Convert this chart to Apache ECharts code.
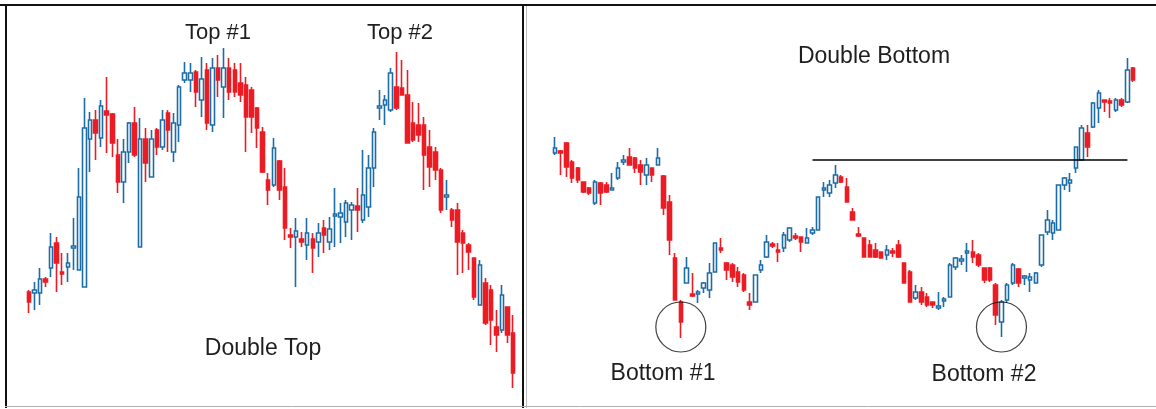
<!DOCTYPE html>
<html>
<head>
<meta charset="utf-8">
<script src="https://cdn.jsdelivr.net/npm/echarts@6/dist/echarts.min.js"></script>
<style>
html,body{margin:0;padding:0;background:#fff;}
#c{width:1156px;height:409px;}
</style>
</head>
<body>
<div id="c"></div>
<script>
// ---- Data: [open, close, low, high] ----
var doubleTopCandles = [
[108,98,87,110],[107,110,90,118],[107,121,95,132],[121,118,113,123],[132,153,123,167],
[157,137,108,163],[128,126,115,147],[133,137,118,147],[152,154,130,182],[130,203,130,232],
[113,272,113,302],[261,280,228,288],[280,267,240,290],[262,294,253,300],[289,285,247,323],
[286,257,243,287],[245,218,207,261],[218,248,197,261],[248,277,237,278],[277,245,243,293],
[153,261,153,282],[261,237,218,272],[223,261,223,270],[270,253,245,272],[253,280,250,290],
[287,270,248,290],[248,277,238,287],[275,313,258,315],[320,327,317,338],[320,327,308,337],
[328,308,293,330],[300,321,283,343],[330,277,270,337],[275,332,268,342],[332,320,303,345],
[313,332,282,352],[332,308,300,342],[330,308,303,337],[317,305,298,337],[315,283,248,323],
[310,283,267,313],[292,272,252,293],[268,228,227,273],[220,210,195,227],[215,252,213,262],
[239,210,200,240],[213,172,160,232],[165,163,152,172],[163,169,113,182],[161,158,153,168],
[155,167,140,182],[161,152,127,167],[158,167,143,177],[172,165,147,180],[158,171,150,183],
[184,186,153,212],[183,187,157,197],[178,197,163,200],[190,195,160,198],[194,190,168,212],
[180,205,177,250],[193,232,183,245],[232,268,213,272],[292,294,280,310],[295,300,275,305],
[290,327,288,332],[313,292,290,348],[312,305,305,340],[305,257,257,330],[277,260,258,298],
[275,265,258,297],[275,245,210,283],[253,233,213,270],[248,230,220,253],[230,190,187,232],
[203,205,190,220],[190,180,173,192],[190,158,125,197],[167,157,127,170],[155,148,130,157],
[142,103,100,142],[95,135,95,140],[117,77,75,122],[110,80,55,115],[73,65,48,90],
[70,105,67,115],[93,65,57,93],[67,27,12,85]
];
var doubleBottomCandles = [
[247,252,245,263],[249,247,225,250],[257,233,223,258],[238,222,217,240],
[232,220,217,233],[218,208,207,218],[212,207,205,213],[197,218,195,220],
[217,207,195,218],[215,208,207,218],[210,212,210,227],[222,232,220,238],[238,240,235,245],
[243,235,235,252],[242,232,227,243],[235,228,215,240],[225,235,215,242],[232,225,218,232],
[235,242,235,252],[224,192,185,225],[198,160,145,205],[142,100,100,147],[98,78,62,100],
[117,132,117,143],[106,104,103,127],[106,108,97,110],[112,117,107,118],[110,127,102,137],
[128,157,128,157],[152,150,147,162],[137,130,120,138],[135,123,118,137],[128,118,113,133],
[125,110,108,127],[98,95,90,107],[98,125,98,125],[130,135,127,140],[143,158,142,165],
[156,154,152,158],[150,148,138,157],[152,165,148,168],[160,172,158,173],[164,162,160,167],
[163,158,148,163],[157,162,157,172],[167,170,165,173],[170,203,170,203],[210,212,203,218],
[207,215,203,220],[217,225,212,235],[223,218,217,225],[213,198,198,222],[188,180,180,192],
[166,164,163,173],[162,143,143,162],[155,143,143,160],[150,143,142,157],[148,142,142,148],
[145,150,140,155],[149,147,143,152],[155,143,142,160],[137,117,117,137],[128,98,98,130],
[102,108,100,115],[108,98,95,113],[103,95,93,107],[98,95,92,98],[92,94,90,108],
[99,101,93,103],[103,135,103,137],[133,142,130,143],[139,141,135,145],[147,149,128,157],
[148,143,137,160],[145,135,133,147],[132,120,117,132],[132,120,118,133],[115,85,75,117],
[78,98,63,100],[100,115,97,117],[117,135,115,137],[131,117,113,132],[122,124,115,125],
[120,123,108,127],[117,127,117,128],[135,165,133,165],[168,180,165,190],[167,177,160,180],
[170,215,170,215],[215,222,210,223],[217,220,208,227],[232,253,227,253],[240,272,240,275],
[267,253,243,275],[273,297,272,298],[292,307,277,310],[300,298,288,300],[299,297,282,302],
[290,300,288,302],[300,295,293,302],[298,330,297,342],[332,320,318,333]
];
var leftCategories = doubleTopCandles.map(function(d,i){return 'D' + (i+1);});
var rightCategories = doubleBottomCandles.map(function(d,i){return 'D' + (i+1);});
var resistanceLevel = 240;          // neckline of the double bottom
var resistanceFrom = 45, resistanceTo = 100;   // candle indices
var bottomMarks = [[22, 73], [78, 73]];        // [candle index, price]
var labels = {
  top1: 'Top #1', top2: 'Top #2', doubleTop: 'Double Top',
  doubleBottom: 'Double Bottom', bottom1: 'Bottom #1', bottom2: 'Bottom #2'
};

var BLUE = '#1c6da6', RED = '#ec1c24';
var chart = echarts.init(document.getElementById('c'), null, {renderer:'canvas'});
var candleStyle = {color:'#ffffff', color0:RED, borderColor:BLUE, borderColor0:RED, borderWidth:1.6};
var font = '"Liberation Sans", Arial, sans-serif';
function txt(t, x, y, size){
  return {type:'text', x:x, y:y, z:10, style:{text:t, fill:'#1e1e1e', font: size + 'px ' + font, align:'center', verticalAlign:'middle'}};
}
function ln(x1, y1, x2, y2, color, w){
  return {type:'line', z:20, shape:{x1:x1, y1:y1, x2:x2, y2:y2}, style:{stroke:color, lineWidth:w}};
}
chart.setOption({
  animation:false,
  backgroundColor:'#ffffff',
  grid:[
    {left:26, width:490, top:0, height:409},
    {left:552, width:584, top:0, height:409}
  ],
  xAxis:[
    {type:'category', gridIndex:0, data:leftCategories, show:false, boundaryGap:true},
    {type:'category', gridIndex:1, data:rightCategories, show:false, boundaryGap:true}
  ],
  yAxis:[
    {type:'value', gridIndex:0, min:-9, max:400, show:false, splitLine:{show:false}},
    {type:'value', gridIndex:1, min:-9, max:400, show:false, splitLine:{show:false}}
  ],
  series:[
    {type:'candlestick', xAxisIndex:0, yAxisIndex:0, data:doubleTopCandles, barWidth:4, itemStyle:candleStyle},
    {type:'candlestick', xAxisIndex:1, yAxisIndex:1, data:doubleBottomCandles, barWidth:4, itemStyle:candleStyle,
      markLine:{symbol:'none', silent:true, label:{show:false}, lineStyle:{color:'#000', width:1.5, type:'solid'},
        data:[[{coord:[resistanceFrom, resistanceLevel]},{coord:[resistanceTo, resistanceLevel]}]]}},
    {type:'scatter', xAxisIndex:1, yAxisIndex:1, data:bottomMarks, symbol:'circle', symbolSize:50, z:5,
      itemStyle:{color:'rgba(0,0,0,0)', borderColor:'#111', borderWidth:1.2}}
  ],
  graphic:[
    ln(0, 5, 1156, 5, '#111', 2),
    ln(6, 4, 6, 408, '#111', 2),
    ln(523, 4, 523, 408, '#111', 2),
    ln(526.5, 6, 526.5, 408, '#bdbdbd', 1),
    ln(5, 406.5, 1156, 406.5, '#b0b0b0', 1),
    txt(labels.top1, 218, 33, 22),
    txt(labels.top2, 400, 33, 22),
    txt(labels.doubleTop, 263, 349, 23),
    txt(labels.doubleBottom, 874, 57, 23),
    txt(labels.bottom1, 663, 374, 23),
    txt(labels.bottom2, 984, 375, 23)
  ]
});
</script>
</body>
</html>
